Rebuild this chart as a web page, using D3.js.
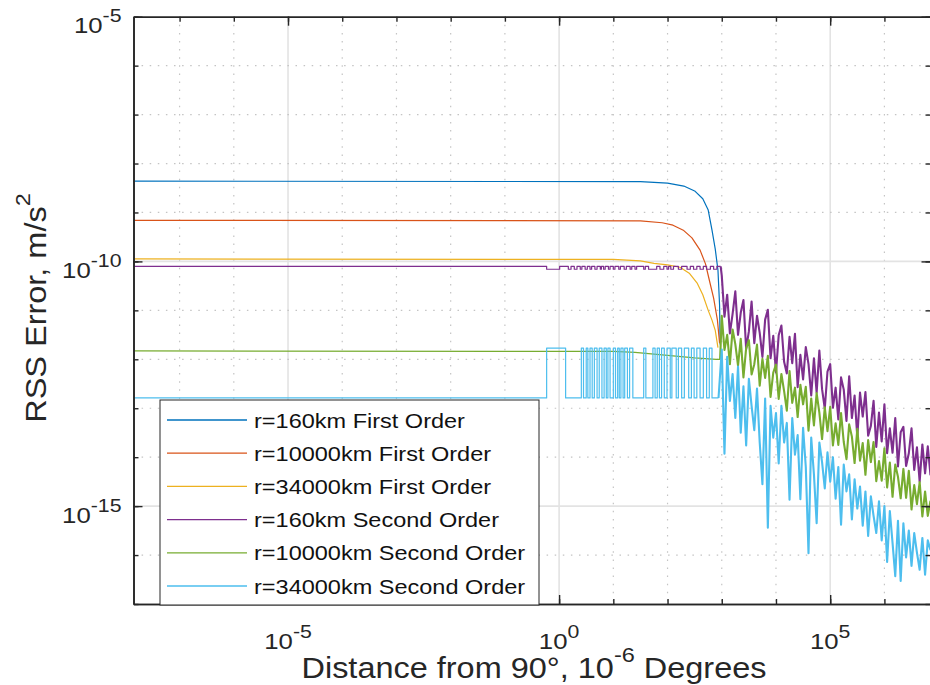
<!DOCTYPE html>
<html>
<head>
<meta charset="utf-8">
<script src="https://cdn.jsdelivr.net/npm/d3@7/dist/d3.min.js"></script>
<style>
body { margin: 0; background: #fff; }
svg { display: block; font-family: "Liberation Sans", Arial, Helvetica, sans-serif; }
.axis { color: #262626; }
.axis path.domain { stroke-width: 1.6; }
.axis .tick line { stroke-width: 1.4; }
.grid-minor { stroke: #c4c4c4; stroke-width: 1.2; stroke-dasharray: 1.5 6.6; }
.grid-major { stroke: #e3e3e3; stroke-width: 1.6; }
.series { fill: none; stroke-width: 1.2; stroke-linejoin: round; }
.series.noisy { stroke-width: 2.1; }
</style>
</head>
<body>
<svg id="myGraph" width="930" height="685"></svg>
<script>
// ---- data (all values are log10 of the plotted quantity) ----
var xLimExp = [-7.85, 6.85];          // x axis limits
var yLimExp = [-17, -5];              // y axis limits
var xLabelExp = [-5, 0, 5];           // labelled x decades
var yLabelExp = [-15, -10, -5];       // labelled y decades

var seriesNames = [
  "r=160km First Order", "r=10000km First Order", "r=34000km First Order",
  "r=160km Second Order", "r=10000km Second Order", "r=34000km Second Order"
];
var seriesColors = ["#0072BD", "#D95319", "#EDB120", "#7E2F8E", "#77AC30", "#4DBEEE"];

// first order curves [log x, log y]
var blueFirst = [[-7.85,-8.36],[1.5,-8.37],[2.0,-8.40],[2.3,-8.46],[2.5,-8.56],[2.65,-8.72],
  [2.75,-8.95],[2.82,-9.36],[2.88,-9.75],[2.93,-10.18],[2.96,-10.9],[2.97,-11.7]];
var orangeFirst = [[-7.85,-9.16],[1.5,-9.17],[1.9,-9.21],[2.1,-9.26],[2.3,-9.37],[2.45,-9.52],
  [2.6,-9.77],[2.7,-10.05],[2.77,-10.38],[2.85,-10.75],[2.92,-11.2],[2.96,-11.67]];
var yellowFirst = [[-7.85,-9.95],[1.0,-9.96],[1.5,-9.99],[1.75,-10.04],[2.0,-10.07],[2.23,-10.12],
  [2.4,-10.24],[2.55,-10.45],[2.65,-10.68],[2.75,-11.0],[2.82,-11.2],[2.88,-11.41],[2.93,-11.76]];

// second order, flat / stepping part
var purpleLevels = [-10.10, -10.16];   // upper, lower
var purpleDips = [[-0.23,0.01],[0.17,0.22],[0.28,0.33],[0.39,0.42],[0.48,0.52],[0.57,0.60],
  [0.66,0.70],[0.76,0.78],[0.82,0.85],[0.91,0.94],[1.00,1.03],[1.10,1.13],[1.20,1.24],[1.31,1.34],
  [1.40,1.43],[1.56,1.59],[1.65,1.80],[1.86,1.93],[1.99,2.02],[2.06,2.11],[2.20,2.26],[2.36,2.42],
  [2.48,2.54],[2.60,2.66],[2.72,2.79],[2.85,2.91]];
var greenFlat = [[-7.85,-11.83],[1.0,-11.84],[1.4,-11.86],[2.0,-11.92],[2.5,-11.97],[2.9,-12.0],[2.97,-12.0]];
var cyanLevels = [-12.79, -11.77];     // lower, upper
var cyanPulses = [[-0.23,0.12],[0.41,0.45],[0.50,0.53],[0.57,0.61],[0.65,0.70],[0.74,0.79],
  [0.83,0.87],[0.90,0.94],[1.00,1.04],[1.08,1.11],[1.14,1.18],[1.21,1.26],[1.30,1.36],[1.56,1.60],
  [1.73,1.77],[1.81,1.85],[1.89,1.94],[1.99,2.05],[2.08,2.16],[2.20,2.26],[2.31,2.39],[2.44,2.49],
  [2.54,2.60],[2.66,2.72],[2.77,2.82]];

// second order, noisy part
var noiseX = [3.00,3.05,3.10,3.15,3.20,3.25,3.30,3.35,3.40,3.45,3.50,3.55,3.60,3.65,3.70,3.75,
  3.80,3.85,3.90,3.95,4.00,4.05,4.10,4.15,4.20,4.25,4.30,4.35,4.40,4.45,4.50,4.55,4.60,4.65,4.70,
  4.75,4.80,4.85,4.90,4.95,5.00,5.05,5.10,5.15,5.20,5.25,5.30,5.35,5.40,5.45,5.50,5.55,5.60,5.65,
  5.70,5.75,5.80,5.85,5.90,5.95,6.00,6.05,6.10,6.15,6.20,6.25,6.30,6.35,6.40,6.45,6.50,6.55,6.60,
  6.65,6.70,6.75,6.80,6.85];
var purpleNoise = [-10.29,-11.13,-10.68,-11.47,-11.07,-10.61,-11.50,-11.05,-10.79,-11.79,
  -11.43,-10.82,-11.67,-11.11,-11.46,-11.95,-11.19,-10.99,-11.98,-11.52,
  -12.27,-11.51,-11.31,-12.05,-12.29,-11.54,-12.08,-11.48,-12.57,-11.91,
  -12.41,-11.75,-12.10,-12.74,-11.98,-12.68,-11.82,-12.61,-13.01,-12.25,
  -12.10,-12.99,-12.58,-13.23,-12.37,-12.62,-13.26,-12.35,-13.20,-12.74,
  -13.59,-12.68,-13.17,-12.67,-13.56,-13.36,-12.85,-13.79,-13.09,-13.68,
  -12.92,-13.92,-13.41,-13.91,-13.20,-14.19,-13.49,-13.38,-14.18,-13.92,
  -13.41,-14.26,-13.80,-14.50,-13.74,-14.33,-13.78,-14.37];
var greenNoise = [-11.11,-11.81,-11.50,-12.10,-11.39,-11.69,-12.13,-11.58,-12.37,-11.77,
  -11.61,-12.31,-12.10,-11.70,-12.54,-11.99,-12.38,-11.93,-12.77,-12.27,
  -12.11,-12.81,-12.30,-12.65,-13.05,-12.24,-12.89,-12.58,-13.18,-12.52,
  -12.92,-12.56,-13.46,-12.80,-13.35,-12.69,-13.09,-13.63,-12.98,-13.47,
  -12.97,-13.76,-13.31,-13.75,-13.10,-13.69,-14.04,-13.33,-13.58,-14.12,
  -13.42,-14.07,-13.71,-14.36,-13.65,-14.10,-13.69,-14.49,-14.08,-14.48,
  -13.82,-14.62,-14.11,-14.81,-14.15,-14.40,-14.84,-14.24,-14.83,-14.28,
  -15.07,-14.57,-14.96,-14.51,-15.21,-14.70,-15.20,-14.89];
var cyanNoise = [-11.80,-13.93,-11.95,-12.85,-12.30,-13.20,-12.15,-13.50,-12.55,-13.76,
  -12.40,-12.95,-13.45,-12.60,-13.70,-14.55,-12.80,-15.44,-12.95,-13.60,
  -13.10,-14.13,-12.95,-13.70,-13.30,-14.87,-13.20,-13.95,-13.55,-14.86,
  -13.40,-14.20,-15.96,-13.60,-14.35,-15.35,-13.70,-14.10,-14.64,-13.90,
  -14.50,-14.00,-14.85,-14.20,-15.38,-14.15,-14.70,-14.35,-15.27,-14.45,
  -15.05,-14.60,-15.40,-14.70,-15.61,-14.80,-15.20,-15.55,-14.90,-15.70,
  -15.00,-16.14,-15.10,-15.75,-16.43,-15.30,-16.53,-15.35,-16.05,-15.50,
  -16.22,-15.55,-15.95,-16.30,-15.65,-16.40,-15.70,-15.90];

// ---- layout ----
var plotLeft = 133.5, plotRight = 930.5, plotTop = 16.7, plotBottom = 604;
var stretch = "scale(1.12,1)";   // text in the reference is a little wide
var svg = d3.select("#myGraph");

var x = d3.scaleLog()
  .domain([Math.pow(10, xLimExp[0]), Math.pow(10, xLimExp[1])])
  .range([plotLeft, plotRight]);
var y = d3.scaleLog()
  .domain([Math.pow(10, yLimExp[0]), Math.pow(10, yLimExp[1])])
  .range([plotBottom, plotTop]);

var xDecades = d3.range(Math.ceil(xLimExp[0]), Math.floor(xLimExp[1]) + 1);
var yDecades = d3.range(yLimExp[0], yLimExp[1] + 1);

// ---- grid ----
var grid = svg.append("g");
grid.selectAll("line.gx").data(xDecades).enter().append("line")
  .attr("class", function(d){ return xLabelExp.indexOf(d) >= 0 ? "gx grid-major" : "gx grid-minor"; })
  .attr("x1", function(d){ return x(Math.pow(10, d)); })
  .attr("x2", function(d){ return x(Math.pow(10, d)); })
  .attr("y1", plotTop).attr("y2", plotBottom);
grid.selectAll("line.gy").data(yDecades.slice(1, -1)).enter().append("line")
  .attr("class", function(d){ return yLabelExp.indexOf(d) >= 0 ? "gy grid-major" : "gy grid-minor"; })
  .attr("y1", function(d){ return y(Math.pow(10, d)); })
  .attr("y2", function(d){ return y(Math.pow(10, d)); })
  .attr("x1", plotLeft).attr("x2", plotRight);

// ---- series ----
function toReal(pairs){
  return pairs.map(function(p){ return [Math.pow(10, p[0]), Math.pow(10, p[1])]; });
}
function stepPoints(x0, x1, base, alt, intervals){
  var pts = [[x0, base]];
  intervals.forEach(function(iv){
    pts.push([iv[0], base], [iv[0], alt], [iv[1], alt], [iv[1], base]);
  });
  pts.push([x1, base]);
  return pts;
}
function noisePoints(vals, lead){
  return [lead].concat(noiseX.map(function(v, i){ return [v, vals[i]]; }));
}

var purpleFlat = stepPoints(xLimExp[0], 2.98, purpleLevels[0], purpleLevels[1], purpleDips);
var cyanFlat = stepPoints(xLimExp[0], 2.94, cyanLevels[0], cyanLevels[1], cyanPulses);

// each entry: [points, series index, noisy?]
var pieces = [
  [blueFirst, 0, false], [orangeFirst, 1, false], [yellowFirst, 2, false],
  [purpleFlat, 3, false], [noisePoints(purpleNoise, purpleFlat[purpleFlat.length - 1]), 3, true],
  [greenFlat, 4, false], [noisePoints(greenNoise, greenFlat[greenFlat.length - 1]), 4, true],
  [cyanFlat, 5, false], [noisePoints(cyanNoise, cyanFlat[cyanFlat.length - 1]), 5, true]
];

svg.append("clipPath").attr("id", "plotClip").append("rect")
  .attr("x", plotLeft).attr("y", plotTop)
  .attr("width", plotRight - plotLeft).attr("height", plotBottom - plotTop);

var line = d3.line()
  .x(function(d){ return x(d[0]); })
  .y(function(d){ return y(d[1]); });

svg.append("g").attr("clip-path", "url(#plotClip)")
  .selectAll("path").data(pieces).enter().append("path")
  .attr("class", function(d){ return d[2] ? "series noisy" : "series"; })
  .attr("stroke", function(d){ return seriesColors[d[1]]; })
  .attr("d", function(d){ return line(toReal(d[0])); });

// ---- axes (box with inward ticks) ----
var xMinor = xDecades.map(function(d){ return Math.pow(10, d); });
var xMajor = xLabelExp.map(function(d){ return Math.pow(10, d); });
var yMinor = yDecades.map(function(d){ return Math.pow(10, d); });
var yMajor = yLabelExp.map(function(d){ return Math.pow(10, d); });

function drawAxis(axisFn, scale, vals, size, tx, ty){
  svg.append("g").attr("class", "axis")
    .attr("transform", "translate(" + tx + "," + ty + ")")
    .call(axisFn(scale).tickValues(vals).tickSize(size).tickSizeOuter(0).tickFormat(""));
}
drawAxis(d3.axisBottom, x, xMinor, -5, 0, plotBottom);
drawAxis(d3.axisBottom, x, xMajor, -9, 0, plotBottom);
drawAxis(d3.axisTop, x, xMinor, -5, 0, plotTop);
drawAxis(d3.axisTop, x, xMajor, -9, 0, plotTop);
drawAxis(d3.axisLeft, y, yMinor, -5, plotLeft, 0);
drawAxis(d3.axisLeft, y, yMajor, -9, plotLeft, 0);
drawAxis(d3.axisRight, y, yMinor, -5, plotRight, 0);
drawAxis(d3.axisRight, y, yMajor, -9, plotRight, 0);

// ---- tick labels 10^n ----
function powLabel(g, exp, anchor){
  var t = g.append("text").attr("text-anchor", anchor).attr("fill", "#262626");
  t.append("tspan").attr("font-size", 23).text("10");
  t.append("tspan").attr("font-size", 19).attr("dy", -11).text(exp);
}
xLabelExp.forEach(function(e){
  var g = svg.append("g")
    .attr("transform", "translate(" + x(Math.pow(10, e)) + "," + (plotBottom + 45) + ") " + stretch);
  powLabel(g, e, "middle");
});
yLabelExp.forEach(function(e){
  var g = svg.append("g")
    .attr("transform", "translate(121.5," + (y(Math.pow(10, e)) + 16.5) + ") " + stretch);
  powLabel(g, e, "end");
});

// ---- axis titles ----
var xt = svg.append("g").attr("transform", "translate(534,678) " + stretch)
  .append("text").attr("text-anchor", "middle").attr("fill", "#262626").attr("font-size", 29);
xt.append("tspan").text("Distance from 90°, 10");
xt.append("tspan").attr("font-size", 21).attr("dy", -16).text("-6");
xt.append("tspan").attr("dy", 16).text(" Degrees");

var yt = svg.append("g").attr("transform", "translate(46,308) rotate(-90) " + stretch)
  .append("text").attr("text-anchor", "middle").attr("fill", "#262626").attr("font-size", 29);
yt.append("tspan").text("RSS Error, m/s");
yt.append("tspan").attr("font-size", 21).attr("dy", -16).text("2");

// ---- legend ----
var legend = svg.append("g").attr("transform", "translate(160,400)");
legend.append("rect").attr("width", 379).attr("height", 205)
  .attr("fill", "#fff").attr("stroke", "#262626").attr("stroke-width", 1);
var rows = legend.selectAll("g.row").data(seriesNames).enter().append("g")
  .attr("class", "row")
  .attr("transform", function(d, i){ return "translate(0," + (20 + i * 33.2) + ")"; });
rows.append("line").attr("x1", 7).attr("x2", 87).attr("y1", 0).attr("y2", 0)
  .attr("stroke", function(d, i){ return seriesColors[i]; }).attr("stroke-width", 1.3);
rows.append("g").attr("transform", "translate(94,7.5) " + stretch)
  .append("text").attr("font-size", 21).attr("fill", "#111")
  .text(function(d){ return d; });
</script>
</body>
</html>
